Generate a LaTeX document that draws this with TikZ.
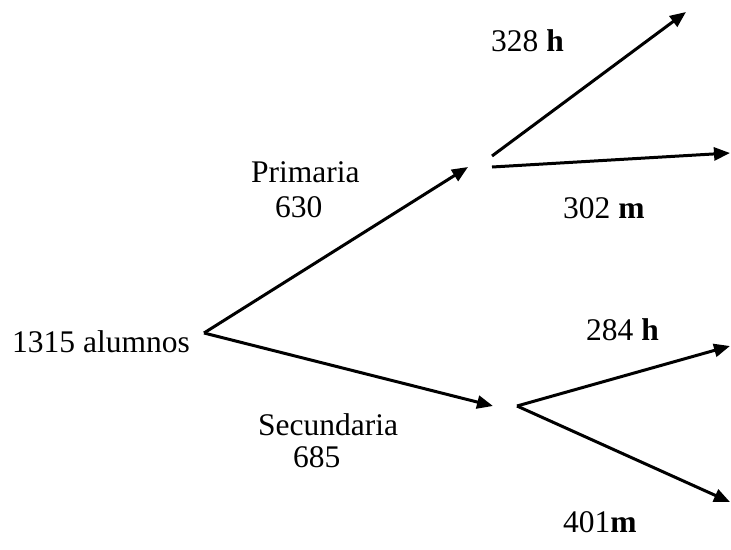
\documentclass[tikz,border=0pt]{standalone}
\usepackage{fontspec}
\setmainfont{Liberation Serif}
\usetikzlibrary{arrows.meta}
\begin{document}
\begin{tikzpicture}[x=1pt,y=-1pt,
  lbl/.style={anchor=base west,inner sep=0pt,font=\fontsize{31.5}{36}\selectfont},
  branch/.style={line width=3pt,-{Triangle[length=16pt,width=13pt]}}]
\useasboundingbox (0,0) rectangle (731,549);
% named points
\coordinate (root) at (204,333);
\coordinate (ptip) at (468,167);
\coordinate (stip) at (493,406);
\coordinate (pa) at (492,156);
\coordinate (pb) at (492,167);
\coordinate (ph) at (686,12);
\coordinate (pm) at (730,153);
\coordinate (sf) at (517,406);
\coordinate (sh) at (730,346);
\coordinate (sm) at (730,502);
% labels
\node[lbl] (root-l) at (12,352) {1315 alumnos};
\node[lbl] (prim) at (251,182) {Primaria};
\node[lbl] (prim-n) at (275,217) {630};
\node[lbl] (sec) at (258,435) {Secundaria};
\node[lbl] (sec-n) at (293,467) {685};
\node[lbl] (h1) at (491,51) {328 \textbf{h}};
\node[lbl] (m1) at (563,218) {302 \textbf{m}};
\node[lbl] (h2) at (586,340) {284 \textbf{h}};
\node[lbl] (m2) at (563,532) {401\textbf{m}};
% connectors
\draw[branch] (root) -- (ptip);
\draw[branch] (root) -- (stip);
\draw[branch] (pa) -- (ph);
\draw[branch] (pb) -- (pm);
\draw[branch] (sf) -- (sh);
\draw[branch] (sf) -- (sm);
\end{tikzpicture}
\end{document}
